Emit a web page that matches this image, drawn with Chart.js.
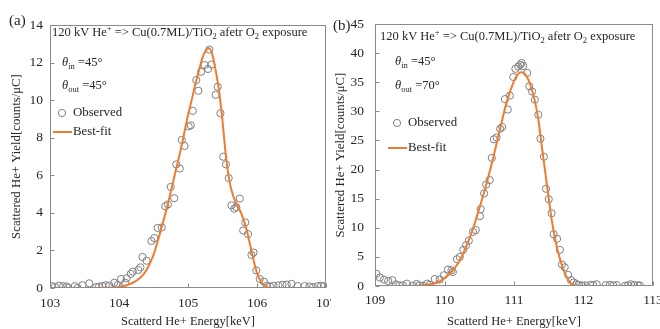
<!DOCTYPE html>
<html>
<head>
<meta charset="utf-8">
<script src="https://cdn.jsdelivr.net/npm/chart.js"></script>
<style>
  html, body { margin: 0; padding: 0; background: #fff; }
  #chartA { position: absolute; left: 0; top: 0; }
  #chartB { position: absolute; left: 331px; top: 0; background: #fff; }
</style>
</head>
<body>
<canvas id="chartA" width="331" height="329"></canvas>
<canvas id="chartB" width="329" height="329"></canvas>
<script>
// panel (a): theta_out = 45
const obsEnergyA = [103.02,103.07,103.13,103.19,103.24,103.26,103.36,103.40,103.47,103.57,103.67,103.71,103.76,103.81,103.86,103.93,103.98,104.03,104.09,104.11,104.17,104.20,104.28,104.31,104.34,104.40,104.47,104.51,104.56,104.62,104.67,104.71,104.75,104.80,104.83,104.88,104.91,104.95,105.01,105.04,105.07,105.12,105.15,105.19,105.24,105.29,105.31,105.34,105.40,105.43,105.47,105.51,105.55,105.59,105.63,105.67,105.70,105.75,105.80,105.83,105.87,105.92,105.95,105.99,106.04,106.10,106.14,106.19,106.24,106.31,106.37,106.43,106.50,106.59,106.69,106.76,106.81,106.88,106.93,106.97];
const obsYieldA = [0.10,0.07,0.12,0.10,0.08,0.02,0.10,0.00,0.15,0.25,0.05,0.07,0.10,0.15,0.12,0.28,0.15,0.48,0.28,0.52,0.75,0.87,0.96,1.10,1.65,1.45,2.50,2.66,3.20,3.22,4.35,4.45,5.38,4.78,6.58,6.36,7.88,7.56,8.60,8.66,9.43,11.07,10.50,11.51,11.87,11.66,12.69,11.89,10.28,10.71,9.30,6.99,6.58,5.85,4.40,4.22,4.30,4.76,3.06,3.49,2.87,1.76,1.89,0.93,0.48,0.34,0.12,0.08,0.12,0.14,0.17,0.18,0.22,0.10,0.10,0.08,0.05,0.10,0.12,0.10];
const fitEnergyA = [103.0,103.5,103.8,104.0,104.1,104.2,104.3,104.4,104.5,104.6,104.7,104.8,104.9,105.0,105.05,105.1,105.15,105.2,105.25,105.3,105.35,105.4,105.45,105.5,105.55,105.6,105.65,105.7,105.75,105.8,105.85,105.9,105.95,106.0,106.05,106.1,106.15,106.2,106.5,107.0];
const fitYieldA = [0,0,0.01,0.05,0.14,0.28,0.52,0.96,1.76,3.0,4.35,5.9,7.45,9.2,9.95,10.75,11.45,12.15,12.6,12.78,12.45,11.6,10.5,8.9,7.0,5.7,4.95,4.5,4.15,3.7,3.1,2.3,1.5,0.8,0.38,0.16,0.05,0.01,0,0];
const xTicksA = [103,104,105,106,107];
const yTicksA = [0,2,4,6,8,10,12,14];

// panel (b): theta_out = 70
const obsEnergyB = [109.02,109.07,109.13,109.19,109.25,109.30,109.35,109.40,109.46,109.54,109.60,109.64,109.69,109.75,109.79,109.86,109.93,109.99,110.05,110.10,110.12,110.18,110.22,110.27,110.31,110.35,110.41,110.45,110.51,110.52,110.57,110.60,110.65,110.68,110.71,110.75,110.80,110.83,110.87,110.91,110.94,110.99,111.02,111.06,111.09,111.11,111.13,111.19,111.22,111.26,111.30,111.35,111.38,111.43,111.46,111.50,111.54,111.57,111.62,111.66,111.69,111.73,111.78,111.82,111.86,111.90,111.93,111.98,112.03,112.10,112.14,112.19,112.32,112.38,112.43,112.48,112.60,112.64,112.68,112.73,112.78,112.81];
const obsYieldB = [2.1,1.45,1.1,0.86,0.98,0.29,0.12,0.10,0.40,0.05,0.35,0.12,0.05,0.40,0.20,1.20,1.10,1.84,2.83,2.70,2.40,4.60,5.00,6.2,7.0,7.8,9.3,9.6,12.0,13.2,15.9,17.4,18.2,22.0,25.2,25.5,27.0,27.3,32.1,30.3,32.7,35.9,37.3,37.7,38.0,38.3,37.8,36.6,34.3,33.4,32.0,29.4,25.3,22.2,16.7,14.9,12.5,8.9,8.1,6.2,3.7,3.2,1.9,1.0,0.6,0.3,0.2,0.1,0.1,0.2,0.15,0.3,0.15,0.2,0.1,0.15,0.05,0.1,0.3,0.15,0.1,0.1];
const fitEnergyB = [109.0,109.5,109.7,109.8,109.9,110.0,110.1,110.2,110.3,110.4,110.5,110.6,110.7,110.8,110.9,111.0,111.05,111.1,111.15,111.2,111.25,111.3,111.35,111.4,111.45,111.5,111.55,111.6,111.65,111.7,111.75,111.8,111.85,111.9,112.0,113.0];
const fitYieldB = [0,0.02,0.15,0.3,0.6,1.35,2.4,4.0,6.4,9.5,13.3,17.4,22.0,27.0,31.8,35.2,36.3,36.7,36.5,35.6,34.0,31.8,28.6,24.0,19.5,15.0,10.8,7.6,5.1,3.2,1.7,0.7,0.25,0.05,0,0];
const xTicksB = [109,110,111,112,113];
const yTicksB = [0,5,10,15,20,25,30,35,40,45];

const SERIF = "'Liberation Serif', 'Times New Roman', serif";
const TEXT = '#262626';
const FRAME = '#8a8a8a';
const POINT = '#7f7f7f';
const ORANGE = '#ED7D31';

// draw text made of runs (sub / sup / italic)
function drawRuns(ctx, x, y, runs, size) {
  ctx.textBaseline = 'middle';
  ctx.textAlign = 'left';
  for (const r of runs) {
    let s = size, dy = 0;
    if (r.sub) { s = size * 0.68; dy = size * 0.28; }
    if (r.sup) { s = size * 0.68; dy = -size * 0.3; }
    ctx.font = (r.it ? 'italic ' : '') + s + 'px ' + SERIF;
    ctx.fillText(r.t, x, y + dy);
    x += ctx.measureText(r.t).width;
  }
}

const panelText = {
  id: 'panelText',
  afterDatasetsDraw(chart, args, o) {
    const {ctx, chartArea: a, scales: {x, y}} = chart;
    const L = Math.round(a.left) + 0.5, T = Math.round(a.top) + 0.5;
    const R = Math.round(a.right) - 0.5, B = Math.round(a.bottom) - 0.5;
    ctx.save();
    ctx.strokeStyle = FRAME;
    ctx.lineWidth = 1;
    ctx.strokeRect(L, T, R - L, B - T);
    // inward tick marks
    ctx.beginPath();
    y.ticks.forEach(t => {
      const py = Math.round(y.getPixelForValue(t.value)) + 0.5;
      ctx.moveTo(L, py); ctx.lineTo(L + 4, py);
    });
    x.ticks.forEach(t => {
      const px = Math.round(x.getPixelForValue(t.value)) + 0.5;
      ctx.moveTo(px, B); ctx.lineTo(px, B - 4);
    });
    ctx.stroke();

    ctx.fillStyle = TEXT;
    drawRuns(ctx, a.left + o.titleDx, o.titleY, [
      {t: '120 kV He'}, {t: '+', sup: true}, {t: ' => Cu(0.7ML)/TiO'}, {t: '2', sub: true},
      {t: ' afetr O'}, {t: '2', sub: true}, {t: ' exposure'}
    ], 12.5);
    drawRuns(ctx, a.left + o.thetaDx, o.thetaY1, [
      {t: 'θ', it: true}, {t: 'in', sub: true}, {t: ' =45°'}
    ], 12.5);
    drawRuns(ctx, a.left + o.thetaDx, o.thetaY2, [
      {t: 'θ', it: true}, {t: 'out', sub: true}, {t: ' =' + o.thetaOut + '°'}
    ], 12.5);

    // legend drawn inside the plot
    const ds0 = chart.data.datasets[0], ds1 = chart.data.datasets[1];
    ctx.strokeStyle = ds0.borderColor;
    ctx.lineWidth = ds0.borderWidth;
    ctx.beginPath();
    ctx.arc(a.left + o.legDx + 9, o.legY1, ds0.pointRadius, 0, Math.PI * 2);
    ctx.stroke();
    drawRuns(ctx, a.left + o.legDx + 20, o.legY1, [{t: ds0.label}], 12.8);
    ctx.strokeStyle = ds1.borderColor;
    ctx.lineWidth = ds1.borderWidth;
    ctx.beginPath();
    ctx.moveTo(a.left + o.legDx, o.legY2); ctx.lineTo(a.left + o.legDx + 19, o.legY2);
    ctx.stroke();
    drawRuns(ctx, a.left + o.legDx + 20, o.legY2, [{t: ds1.label}], 12.8);

    ctx.font = '15px ' + SERIF;
    ctx.textBaseline = 'middle';
    ctx.fillText(o.tag, o.tagX, o.tagY);
    ctx.restore();
  }
};

function makeChart(id, p) {
  const obs = p.obsE.map((e, i) => ({x: e, y: p.obsY[i]}));
  const fit = p.fitE.map((e, i) => ({x: e, y: p.fitY[i]}));
  return new Chart(document.getElementById(id), {
    type: 'scatter',
    data: {
      datasets: [{
        label: 'Observed',
        data: obs,
        pointRadius: 3.6,
        pointStyle: 'circle',
        backgroundColor: 'rgba(0,0,0,0)',
        borderColor: POINT,
        borderWidth: 1,
        order: 2
      }, {
        label: 'Best-fit',
        data: fit,
        showLine: true,
        pointRadius: 0,
        borderColor: ORANGE,
        borderWidth: 2,
        cubicInterpolationMode: 'monotone',
        order: 1
      }]
    },
    options: {
      responsive: false,
      devicePixelRatio: 1,
      animation: false,
      layout: {padding: {top: p.top, right: p.right, left: 0, bottom: 0}},
      plugins: {
        legend: {display: false},
        tooltip: {enabled: false},
        panelText: p.text
      },
      scales: {
        x: {
          type: 'linear',
          min: p.xTicks[0],
          max: p.xTicks[p.xTicks.length - 1],
          afterBuildTicks: s => { s.ticks = p.xTicks.map(v => ({value: v})); },
          afterFit: s => { s.height = p.xH; s.paddingLeft = 0; s.paddingRight = 0; },
          grid: {display: false, drawTicks: false},
          border: {display: false},
          ticks: {color: TEXT, padding: p.xPad, font: {family: SERIF, size: 13.5}},
          title: {display: true, text: 'Scatterd He+ Energy[keV]', color: TEXT,
                  padding: {top: 0, bottom: 0}, font: {family: SERIF, size: 12.5}}
        },
        y: {
          min: p.yTicks[0],
          max: p.yTicks[p.yTicks.length - 1],
          afterBuildTicks: s => { s.ticks = p.yTicks.map(v => ({value: v})); },
          afterFit: s => { s.width = p.yW; s.paddingTop = 0; s.paddingBottom = 0; },
          grid: {display: false, drawTicks: false},
          border: {display: false},
          ticks: {color: TEXT, padding: p.yPad, font: {family: SERIF, size: 13.5}},
          title: {display: true, text: 'Scattered He+ Yield[counts/μC]', color: TEXT,
                  padding: {top: p.yTitlePad, bottom: 0}, font: {family: SERIF, size: 12.8}}
        }
      }
    },
    plugins: [panelText]
  });
}

makeChart('chartA', {
  obsE: obsEnergyA, obsY: obsYieldA, fitE: fitEnergyA, fitY: fitYieldA,
  xTicks: xTicksA, yTicks: yTicksA,
  top: 25, right: 2, xH: 41, yW: 50, xPad: 7, yPad: 7, yTitlePad: 9,
  text: {titleDx: 2, titleY: 33, thetaDx: 12, thetaY1: 63, thetaY2: 86, thetaOut: 45,
         legDx: 3, legY1: 113, legY2: 132, tag: '(a)', tagX: 9, tagY: 21}
});

makeChart('chartB', {
  obsE: obsEnergyB, obsY: obsYieldB, fitE: fitEnergyB, fitY: fitYieldB,
  xTicks: xTicksB, yTicks: yTicksB,
  top: 24, right: 7, xH: 43, yW: 44, xPad: 6, yPad: 11, yTitlePad: 2,
  text: {titleDx: 5, titleY: 37, thetaDx: 20, thetaY1: 62, thetaY2: 86, thetaOut: 70,
         legDx: 13, legY1: 123, legY2: 148, tag: '(b)', tagX: 2, tagY: 26}
});
</script>
</body>
</html>
